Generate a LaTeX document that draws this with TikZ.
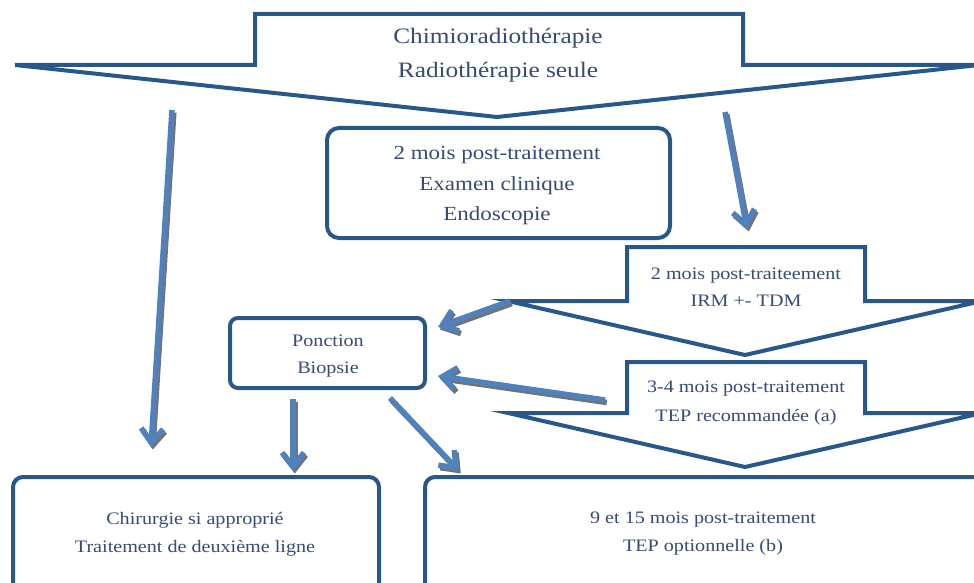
\documentclass[tikz,border=0pt]{standalone}
\usepackage{fontspec}
\setmainfont[FakeStretch=1.15]{Liberation Serif}
\usetikzlibrary{arrows.meta}
\definecolor{edge}{RGB}{40,88,138}
\definecolor{txt}{RGB}{55,75,115}
\definecolor{arr}{RGB}{79,129,189}
\definecolor{shad}{RGB}{115,115,115}
\tikzset{
  bigarrow/.style={draw=edge, line width=4pt, fill=white, line join=miter},
  rbox/.style={draw=edge, line width=4pt, rounded corners=10pt, fill=white},
  lbl/.style={text=txt, align=center, inner sep=0pt},
  conn/.style={draw=arr, line width=5.5pt, -{Straight Barb[length=14pt,width=22pt]}},
  shadconn/.style={conn, draw=shad},
}
\begin{document}
\begin{tikzpicture}[x=1pt,y=-1pt]
\useasboundingbox (0,0) rectangle (974,583);
\clip (0,0) rectangle (974,583);
\fill[white] (0,0) rectangle (974,583);

% big block arrows
\path[bigarrow] (255,14) -- (743,14) -- (743,65) -- (979,65) -- (497,117) -- (15,65) -- (255,65) -- cycle;
\node[lbl, font=\fontsize{22}{34}\selectfont] (top) at (498,55) {Chimioradiothérapie\\Radiothérapie seule};

\path[bigarrow] (627,247) -- (865,247) -- (865,301) -- (982,301) -- (745,355) -- (508,301) -- (627,301) -- cycle;
\node[lbl, font=\fontsize{17.5}{27}\selectfont] (irm) at (746,287) {2 mois post-traiteement\\IRM +- TDM};

\path[bigarrow] (627,362) -- (865,362) -- (865,413) -- (982,413) -- (745,467) -- (508,413) -- (627,413) -- cycle;
\node[lbl, font=\fontsize{17.5}{29}\selectfont] (tep) at (746,403) {3-4 mois post-traitement\\TEP recommandée (a)};

% rounded boxes
\draw[rbox, rounded corners=12pt] (327,128) rectangle (670,238);
\node[lbl, font=\fontsize{20}{30.5}\selectfont] (exam) at (497,186) {2 mois post-traitement\\Examen clinique\\Endoscopie};

\draw[rbox, rounded corners=8pt] (230,318) rectangle (425,388);
\node[lbl, font=\fontsize{17.5}{27}\selectfont] (ponc) at (328,356) {Ponction\\Biopsie};

\draw[rbox] (13,477) rectangle (379,600);
\node[lbl, font=\fontsize{17.5}{28}\selectfont] (chir) at (195,534) {Chirurgie si approprié\\Traitement de deuxième ligne};

\draw[rbox] (425,477) rectangle (990,600);
\node[lbl, font=\fontsize{17.5}{28}\selectfont] (neuf) at (703,534) {9 et 15 mois post-traitement\\TEP optionnelle (b)};

% connector end points
\coordinate (a1s) at (172,110);
\coordinate (a1e) at (151,447);
\coordinate (a2s) at (725,112);
\coordinate (a2e) at (747,229);
\coordinate (a3s) at (510,301);
\coordinate (a3e) at (438,327);
\coordinate (a4s) at (605,400);
\coordinate (a4e) at (438,376);
\coordinate (a5s) at (293,399);
\coordinate (a5e) at (293,471);
\coordinate (a6s) at (390,398);
\coordinate (a6e) at (459,471);

\begin{scope}[transform canvas={shift={(1.8pt,-2.5pt)}}]
\draw[shadconn] (a1s) -- (a1e);
\draw[shadconn] (a2s) -- (a2e);
\draw[shadconn] (a3s) -- (a3e);
\draw[shadconn] (a4s) -- (a4e);
\draw[shadconn] (a5s) -- (a5e);
\draw[shadconn] (a6s) -- (a6e);
\end{scope}

\draw[conn] (a1s) -- (a1e);
\draw[conn] (a2s) -- (a2e);
\draw[conn] (a3s) -- (a3e);
\draw[conn] (a4s) -- (a4e);
\draw[conn] (a5s) -- (a5e);
\draw[conn] (a6s) -- (a6e);
\end{tikzpicture}
\end{document}
